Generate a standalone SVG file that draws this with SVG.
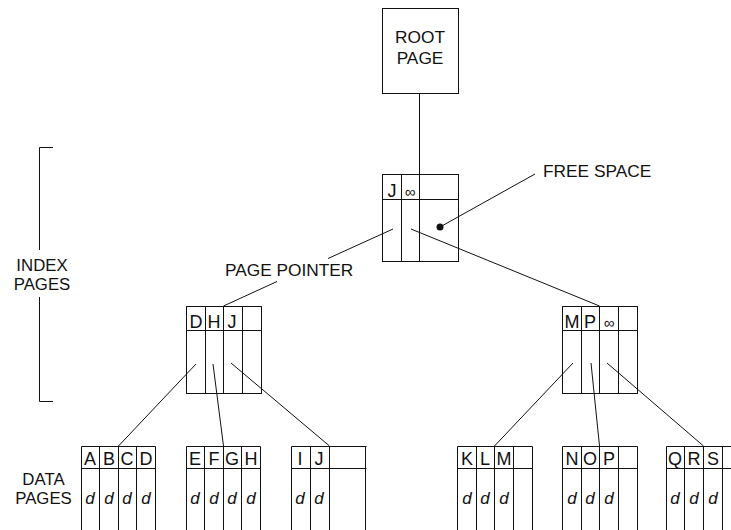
<svg xmlns="http://www.w3.org/2000/svg" width="731" height="530" viewBox="0 0 731 530">
<style>
.box{fill:none;stroke:#111;stroke-width:1}
.ln{fill:none;stroke:#111;stroke-width:1}
.t{font-family:"Liberation Sans",Arial,sans-serif;font-size:17.3px;fill:#111}
.c{font-family:"Liberation Sans",Arial,sans-serif;font-size:17.3px;fill:#111;text-anchor:middle}
.s{font-family:"Liberation Sans",Arial,sans-serif;font-size:16.8px;fill:#111;text-anchor:middle}
.k{font-family:"Liberation Sans",Arial,sans-serif;font-size:18px;fill:#111;text-anchor:middle}
.d{font-family:"Liberation Sans",Arial,sans-serif;font-size:17px;font-style:italic;fill:#111;text-anchor:middle}
.inf{font-family:"Liberation Sans",Arial,sans-serif;font-size:15px;fill:#111;text-anchor:middle}
</style>
<rect width="731" height="530" fill="#fff"/>

<g id="connectors">
<line class="ln" x1="419.5" y1="93" x2="419.5" y2="174"/>
<line class="ln" x1="393" y1="229" x2="328" y2="258.5"/>
<line class="ln" x1="277" y1="281.5" x2="223.5" y2="306"/>
<line class="ln" x1="411" y1="229" x2="599.5" y2="306"/>
<line class="ln" x1="440" y1="227" x2="535" y2="174"/>
<circle cx="440" cy="227" r="3.5" fill="#111"/>
<line class="ln" x1="196" y1="364" x2="118.5" y2="446"/>
<line class="ln" x1="213" y1="364" x2="223.5" y2="446"/>
<line class="ln" x1="231" y1="363" x2="329.5" y2="446"/>
<line class="ln" x1="573" y1="363" x2="494.5" y2="446"/>
<line class="ln" x1="591" y1="363" x2="599.5" y2="446"/>
<line class="ln" x1="607" y1="363" x2="703.5" y2="446"/>
</g>

<g id="root">
<rect class="box" x="382.5" y="8.5" width="76" height="85"/>
<text class="c" x="420" y="43">ROOT</text>
<text class="c" x="420" y="64">PAGE</text>
</g>

<g id="index-top">
<rect class="box" x="382.5" y="174.5" width="76" height="87"/>
<path class="ln" d="M382.5,199.5H458.5M401.5,174.5V261.5M419.5,174.5V261.5"/>
<text class="k" x="392" y="197">J</text>
<text class="inf" x="410" y="197">∞</text>
</g>

<g id="index-left">
<rect class="box" x="186.5" y="306.5" width="75" height="87"/>
<path class="ln" d="M186.5,330.5H261.5M205.5,306.5V393.5M223.5,306.5V393.5M242.5,306.5V393.5"/>
<text class="k" x="196" y="328">D</text>
<text class="k" x="214" y="328">H</text>
<text class="k" x="232" y="328">J</text>
</g>

<g id="index-right">
<rect class="box" x="562.5" y="306.5" width="75" height="87"/>
<path class="ln" d="M562.5,330.5H637.5M581.5,306.5V393.5M599.5,306.5V393.5M618.5,306.5V393.5"/>
<text class="k" x="572" y="328">M</text>
<text class="k" x="590" y="328">P</text>
<text class="inf" x="609" y="328">∞</text>
</g>

<g id="data-abcd">
<path class="ln" d="M81.5,446.5H155.5M81.5,468.5H155.5M81.5,446.5V531M99.5,446.5V531M118.5,446.5V531M136.5,446.5V531M155.5,446.5V531"/>
<text class="k" x="90" y="465">A</text><text class="k" x="109" y="465">B</text><text class="k" x="127" y="465">C</text><text class="k" x="146" y="465">D</text>
<text class="d" x="90" y="504">d</text><text class="d" x="109" y="504">d</text><text class="d" x="127" y="504">d</text><text class="d" x="146" y="504">d</text>
</g>

<g id="data-efgh">
<path class="ln" d="M186.5,446.5H260.5M186.5,468.5H260.5M186.5,446.5V531M204.5,446.5V531M223.5,446.5V531M241.5,446.5V531M260.5,446.5V531"/>
<text class="k" x="195" y="465">E</text><text class="k" x="214" y="465">F</text><text class="k" x="232" y="465">G</text><text class="k" x="251" y="465">H</text>
<text class="d" x="195" y="504">d</text><text class="d" x="214" y="504">d</text><text class="d" x="232" y="504">d</text><text class="d" x="251" y="504">d</text>
</g>

<g id="data-ij">
<path class="ln" d="M291.5,446.5H366.5M291.5,468.5H366.5M291.5,446.5V531M310.5,446.5V531M329.5,446.5V531M365.5,446.5V531"/>
<text class="k" x="300" y="465">I</text><text class="k" x="319" y="465">J</text>
<text class="d" x="300" y="504">d</text><text class="d" x="319" y="504">d</text>
</g>

<g id="data-klm">
<path class="ln" d="M457.5,446.5H532.5M457.5,468.5H532.5M457.5,446.5V531M476.5,446.5V531M494.5,446.5V531M513.5,446.5V531M532.5,446.5V531"/>
<text class="k" x="467" y="465">K</text><text class="k" x="485" y="465">L</text><text class="k" x="504" y="465">M</text>
<text class="d" x="467" y="504">d</text><text class="d" x="485" y="504">d</text><text class="d" x="504" y="504">d</text>
</g>

<g id="data-nop">
<path class="ln" d="M562.5,446.5H637.5M562.5,468.5H637.5M562.5,446.5V531M581.5,446.5V531M599.5,446.5V531M618.5,446.5V531M637.5,446.5V531"/>
<text class="k" x="572" y="465">N</text><text class="k" x="590" y="465">O</text><text class="k" x="609" y="465">P</text>
<text class="d" x="572" y="504">d</text><text class="d" x="590" y="504">d</text><text class="d" x="609" y="504">d</text>
</g>

<g id="data-qrs">
<path class="ln" d="M666.5,446.5H731M666.5,468.5H731M666.5,446.5V531M684.5,446.5V531M703.5,446.5V531M722.5,446.5V531"/>
<text class="k" x="675" y="465">Q</text><text class="k" x="694" y="465">R</text><text class="k" x="713" y="465">S</text>
<text class="d" x="675" y="504">d</text><text class="d" x="694" y="504">d</text><text class="d" x="713" y="504">d</text>
</g>

<g id="labels">
<path class="ln" d="M53,147.5H39.5V250M39.5,297V401.5H53"/>
<text class="s" x="42" y="270.5">INDEX</text>
<text class="s" x="42" y="289.5">PAGES</text>
<text class="s" x="43.5" y="484.5">DATA</text>
<text class="s" x="43.5" y="503.5">PAGES</text>
<text class="t" x="225" y="276">PAGE POINTER</text>
<text class="t" x="543" y="177">FREE SPACE</text>
</g>
</svg>
